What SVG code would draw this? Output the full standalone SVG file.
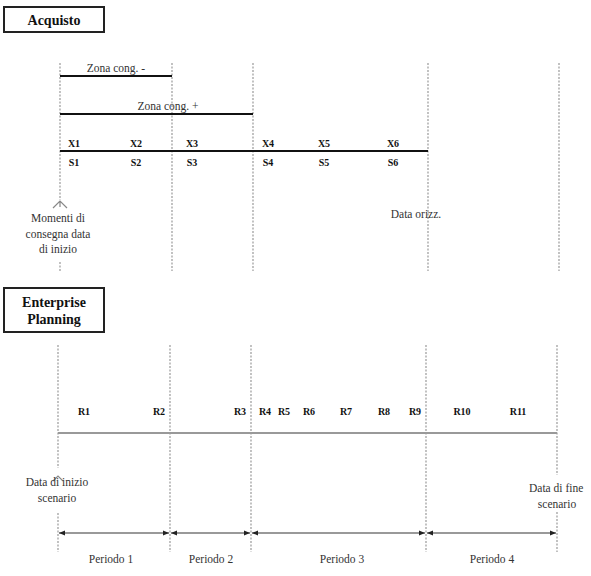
<svg xmlns="http://www.w3.org/2000/svg" width="591" height="576" viewBox="0 0 591 576">
<style>
.bg{fill:#fff}
.box{fill:#fff;stroke:#222;stroke-width:2}
text{font-family:"Liberation Serif","Times New Roman",Times,"DejaVu Serif",serif}
.title{font-weight:bold;font-size:14px;fill:#111;text-anchor:middle}
.lbl{font-weight:bold;font-size:10px;fill:#111;text-anchor:middle}
.txt{font-size:11.5px;fill:#333;text-anchor:middle}
.dot{stroke:#999;stroke-width:1.2;stroke-dasharray:2,1.5;fill:none}
.blk{stroke:#111;stroke-width:2;fill:none}
.gry{stroke:#999;stroke-width:2;fill:none}
.chev{stroke:#888;stroke-width:1.2;fill:none}
</style>
<defs>
<marker id="ah" viewBox="0 0 6 6" refX="6" refY="3" markerWidth="6" markerHeight="6" markerUnits="userSpaceOnUse" orient="auto-start-reverse">
<path d="M0,0.5 L6,3 L0,5.5 Z" fill="#222"/>
</marker>
</defs>
<rect class="bg" x="0" y="0" width="591" height="576"/>

<g id="acquisto">
<rect class="box" x="4" y="7" width="100" height="25"/>
<text class="title" x="54" y="25">Acquisto</text>
</g>

<g id="top-grid">
<line class="dot" x1="60" y1="63" x2="60" y2="200"/>
<line class="dot" x1="60" y1="262" x2="60" y2="271"/>
<line class="dot" x1="172" y1="63" x2="172" y2="271"/>
<line class="dot" x1="253" y1="63" x2="253" y2="271"/>
<line class="dot" x1="428" y1="63" x2="428" y2="271"/>
<line class="dot" x1="559" y1="63" x2="559" y2="271"/>
</g>

<g id="zona-meno">
<line class="blk" x1="60" y1="76" x2="172" y2="76"/>
<text class="txt" x="116" y="72">Zona cong. -</text>
</g>
<g id="zona-piu">
<line class="blk" x1="60" y1="114" x2="253" y2="114"/>
<text class="txt" x="168" y="110">Zona cong. +</text>
</g>

<g id="timeline-top">
<line class="blk" x1="60" y1="151" x2="428" y2="151"/>
<text class="lbl" x="74" y="147">X1</text>
<text class="lbl" x="136" y="147">X2</text>
<text class="lbl" x="192" y="147">X3</text>
<text class="lbl" x="268" y="147">X4</text>
<text class="lbl" x="324" y="147">X5</text>
<text class="lbl" x="393" y="147">X6</text>
<text class="lbl" x="74" y="166">S1</text>
<text class="lbl" x="136" y="166">S2</text>
<text class="lbl" x="192" y="166">S3</text>
<text class="lbl" x="268" y="166">S4</text>
<text class="lbl" x="324" y="166">S5</text>
<text class="lbl" x="393" y="166">S6</text>
</g>

<g id="momenti">
<path class="chev" d="M53,208 L60,201 L67,208 M60,201 L60,207"/>
<text class="txt" x="58" y="222">Momenti di</text>
<text class="txt" x="58" y="238">consegna data</text>
<text class="txt" x="58" y="253">di inizio</text>
</g>

<g id="data-orizz">
<text class="txt" x="416" y="218">Data orizz.</text>
</g>

<g id="enterprise">
<rect class="box" x="4" y="288" width="100" height="44"/>
<text class="title" x="54" y="307">Enterprise</text>
<text class="title" x="54" y="324">Planning</text>
</g>

<g id="bottom-grid">
<line class="dot" x1="58" y1="345" x2="58" y2="468"/>
<line class="dot" x1="58" y1="513" x2="58" y2="552"/>
<line class="dot" x1="170" y1="345" x2="170" y2="552"/>
<line class="dot" x1="251" y1="345" x2="251" y2="552"/>
<line class="dot" x1="426" y1="345" x2="426" y2="552"/>
<line class="dot" x1="557" y1="345" x2="557" y2="475"/>
<line class="dot" x1="557" y1="512" x2="557" y2="552"/>
</g>

<g id="timeline-bottom">
<line class="gry" x1="58" y1="433" x2="557" y2="433"/>
<text class="lbl" x="84" y="415">R1</text>
<text class="lbl" x="159" y="415">R2</text>
<text class="lbl" x="240" y="415">R3</text>
<text class="lbl" x="265" y="415">R4</text>
<text class="lbl" x="284" y="415">R5</text>
<text class="lbl" x="309" y="415">R6</text>
<text class="lbl" x="346" y="415">R7</text>
<text class="lbl" x="384" y="415">R8</text>
<text class="lbl" x="415" y="415">R9</text>
<text class="lbl" x="462" y="415">R10</text>
<text class="lbl" x="518" y="415">R11</text>
</g>

<g id="data-inizio">
<path class="chev" d="M53,481 L58,476 L63,481"/>
<text class="txt" x="57" y="486">Data di inizio</text>
<text class="txt" x="57" y="502">scenario</text>
</g>

<g id="data-fine">
<text class="txt" x="529" y="492" style="text-anchor:start">Data di fine</text>
<text class="txt" x="557" y="508">scenario</text>
</g>

<g id="connectors">
<line class="gry" x1="59" y1="533" x2="169" y2="533" stroke-width="1.5" marker-start="url(#ah)" marker-end="url(#ah)"/>
<line class="gry" x1="171" y1="533" x2="250" y2="533" stroke-width="1.5" marker-start="url(#ah)" marker-end="url(#ah)"/>
<line class="gry" x1="252" y1="533" x2="425" y2="533" stroke-width="1.5" marker-start="url(#ah)" marker-end="url(#ah)"/>
<line class="gry" x1="427" y1="533" x2="556" y2="533" stroke-width="1.5" marker-start="url(#ah)" marker-end="url(#ah)"/>
</g>

<g id="periodi">
<text class="txt" x="111" y="563">Periodo 1</text>
<text class="txt" x="211" y="563">Periodo 2</text>
<text class="txt" x="342" y="563">Periodo 3</text>
<text class="txt" x="492" y="563">Periodo 4</text>
</g>
</svg>
